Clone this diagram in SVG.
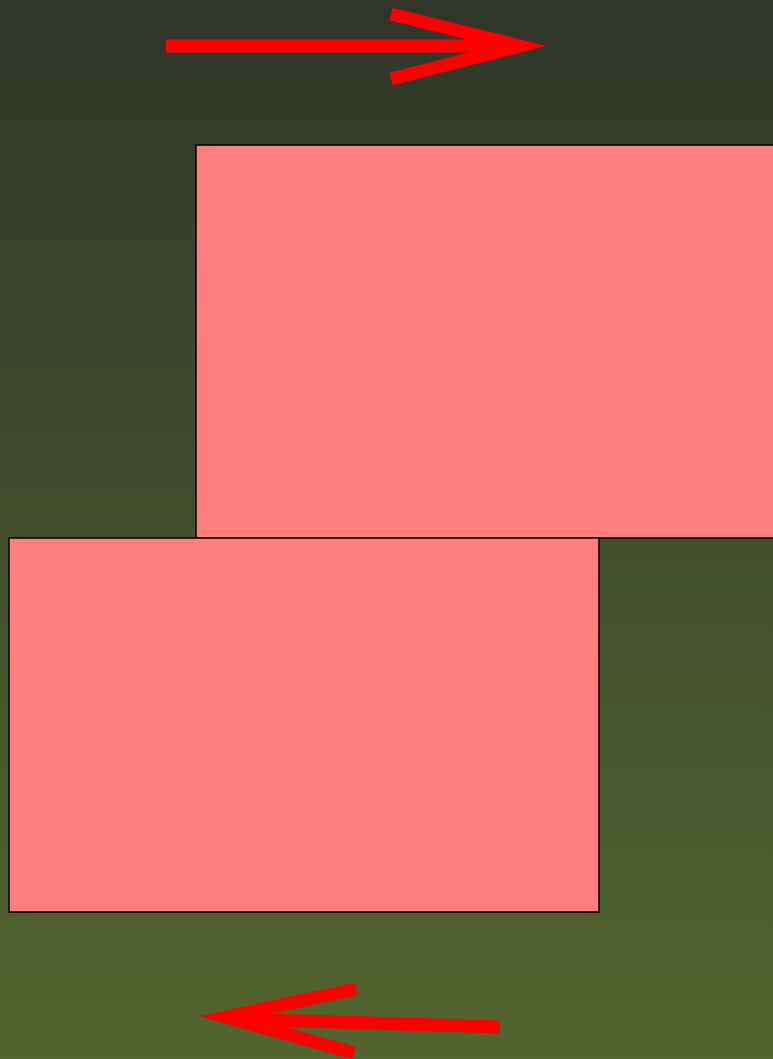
<svg xmlns="http://www.w3.org/2000/svg" width="773" height="1059" viewBox="0 0 773 1059">
<defs>
<linearGradient id="bg" x1="0" y1="0" x2="0" y2="1">
<stop offset="0" stop-color="#30362a"/>
<stop offset="0.5" stop-color="#434f2d"/>
<stop offset="1" stop-color="#52642f"/>
</linearGradient>
</defs>
<style>
.box{fill:#ff7f7f;stroke:#000;stroke-width:1.5}
.arr{fill:none;stroke:#ff0000;stroke-width:13;stroke-linejoin:miter;stroke-miterlimit:20;stroke-linecap:butt}
</style>
<rect x="0" y="0" width="773" height="1059" fill="url(#bg)"/>
<g id="box-top"><rect class="box" x="196" y="145" width="590" height="393"/></g>
<g id="box-bottom"><rect class="box" x="9" y="538" width="590" height="374"/></g>
<g id="connectors">
<path class="arr" d="M166,46 L510,46"/>
<path class="arr" d="M391,14 L520,46 L391,79"/>
<path class="arr" d="M500,1027 L236,1019"/>
<path class="arr" d="M356,989 L226,1017 L354,1053"/>
</g>
</svg>
